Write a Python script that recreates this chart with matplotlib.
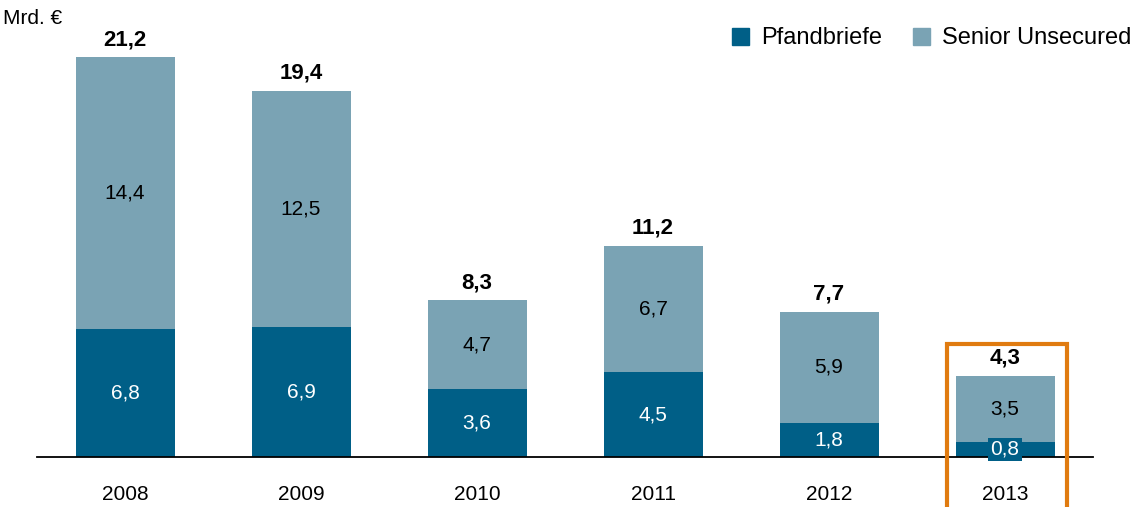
import matplotlib.pyplot as plt
from matplotlib.patches import Patch, Rectangle

plt.rcParams['font.family'] = ['Liberation Sans', 'DejaVu Sans']

jahre = ['2008', '2009', '2010', '2011', '2012', '2013']
pfandbriefe = [6.8, 6.9, 3.6, 4.5, 1.8, 0.8]
senior = [14.4, 12.5, 4.7, 6.7, 5.9, 3.5]
gesamt = [21.2, 19.4, 8.3, 11.2, 7.7, 4.3]

dunkel = '#005f87'
hell = '#7aa3b4'
orange = '#e07b10'

def fmt(v):
    return f'{v:.1f}'.replace('.', ',')

fig = plt.figure(figsize=(11.35, 5.07), dpi=100)
ax = fig.add_axes([37/1135, 50/507, 1056/1135, 457/507])

x = list(range(len(jahre)))
breite = 0.5625
ax.bar(x, pfandbriefe, breite, color=dunkel, zorder=2)
ax.bar(x, senior, breite, bottom=pfandbriefe, color=hell, zorder=2)

for i in x:
    p = pfandbriefe[i]
    s = senior[i]
    if p < 1.5:
        ax.text(i, p / 2, fmt(p), ha='center', va='center', color='white', fontsize=15,
                bbox=dict(boxstyle='square,pad=0.1', fc=dunkel, ec='none'), zorder=4)
    else:
        ax.text(i, p / 2, fmt(p), ha='center', va='center', color='white', fontsize=15, zorder=4)
    ax.text(i, p + s / 2, fmt(s), ha='center', va='center', color='black', fontsize=15, zorder=4)
    ax.annotate(fmt(gesamt[i]), (i, p + s), xytext=(0, 5), textcoords='offset points',
                ha='center', va='bottom', fontsize=16, fontweight='bold')

ax.set_xlim(-0.5, 5.5)
ax.set_ylim(0, 457 / 18.87)
for sp in ['top', 'right', 'left']:
    ax.spines[sp].set_visible(False)
ax.spines['bottom'].set_linewidth(1.3)
ax.spines['bottom'].set_zorder(3)
ax.set_yticks([])
ax.set_xticks(x)
ax.set_xticklabels(jahre, fontsize=15)
ax.tick_params(axis='x', length=0, pad=20.5)

# Markierung 2013
rahmen = Rectangle((4.673, -5), 0.682, 5 + 5.99, fill=False, ec=orange, lw=3,
                   clip_on=False, zorder=5)
ax.add_patch(rahmen)

fig.text(3/1135, 1 - 18/507, 'Mrd. €', fontsize=15, ha='left', va='center')

handles = [Patch(color=dunkel, label='Pfandbriefe'), Patch(color=hell, label='Senior Unsecured')]
fig.legend(handles=handles, loc='upper right', bbox_to_anchor=(1.009, 0.974), ncol=2,
           frameon=False, fontsize=17, handlelength=0.72, handleheight=0.72,
           handletextpad=0.5, columnspacing=1.3, borderaxespad=0.2)

fig.savefig('out.png', dpi=100)
